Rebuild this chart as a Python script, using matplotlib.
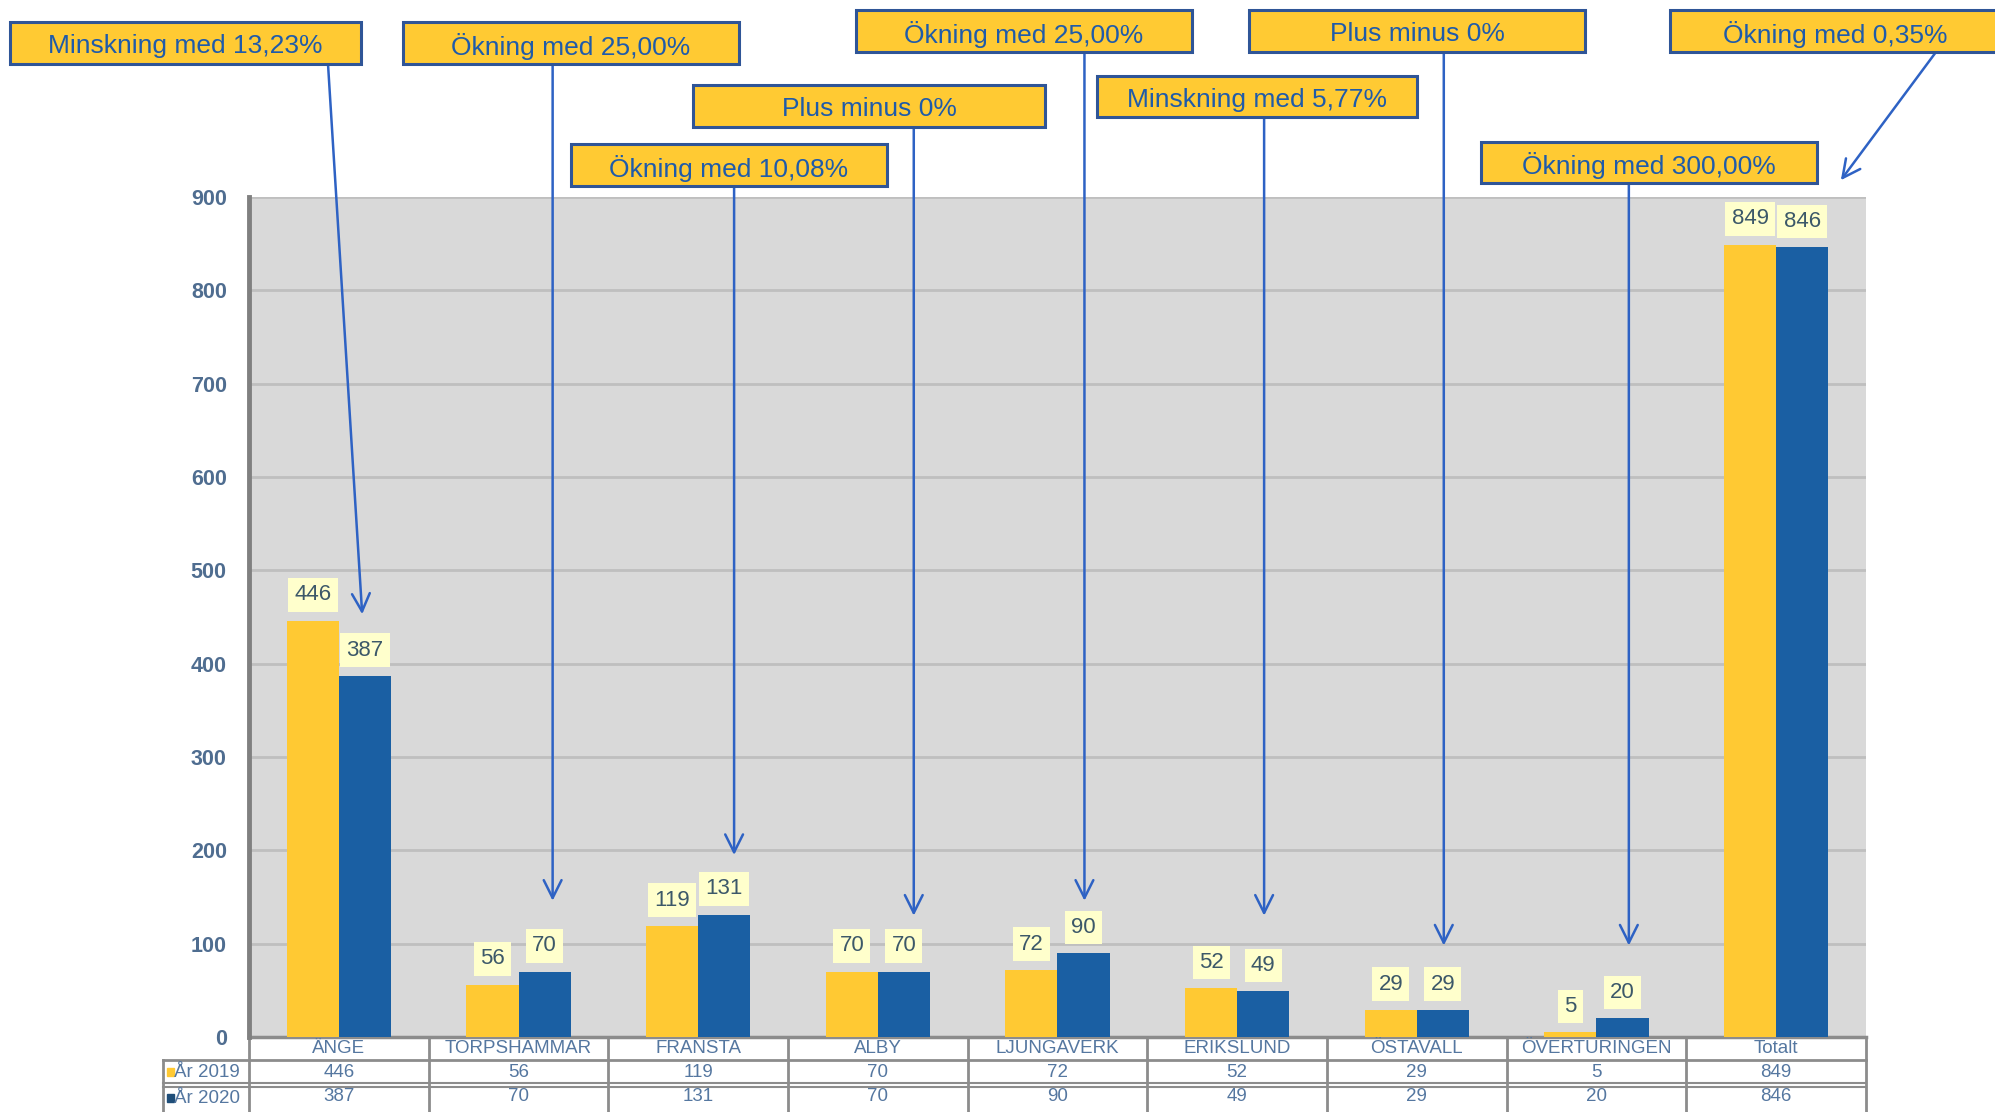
import numpy as np
import matplotlib.pyplot as plt
from matplotlib.patches import Rectangle
import matplotlib.transforms as mtrans

plt.rcParams['font.family'] = ['Liberation Sans', 'DejaVu Sans']

# data
orter = ['ÄNGE', 'TORPSHAMMAR', 'FRANSTA', 'ALBY', 'LJUNGAVERK',
         'ERIKSLUND', 'ÖSTAVALL', 'ÖVERTURINGEN', 'Totalt']
ar2019 = [446, 56, 119, 70, 72, 52, 29, 5, 849]
ar2020 = [387, 70, 131, 70, 90, 49, 29, 20, 846]
serier = ['År 2019', 'År 2020']
kommentarer = ['Minskning med 13,23%', 'Ökning med 25,00%', 'Ökning med 10,08%',
               'Plus minus 0%', 'Ökning med 25,00%', 'Minskning med 5,77%',
               'Plus minus 0%', 'Ökning med 300,00%', 'Ökning med 0,35%']

# layout of the callout boxes, figure pixels from top: x0, x1, y0, y1
boxar = [(10, 361, 22, 64), (403, 739, 22, 64), (571, 887, 144, 186),
         (693, 1045, 85, 127), (856, 1192, 10, 52), (1097, 1417, 76, 117),
         (1249, 1585, 10, 52), (1481, 1817, 142, 183), (1670, 2000, 10, 52)]
pil_x = [0.13, 1.19, 2.20, 3.20, 4.15, 5.15, 6.15, 7.18, 8.36]
pil_y = [453, 146, 195, 130, 146, 130, 98, 98, 918]
pil_start_x = [328, None, None, None, None, None, None, None, 1936]

GUL = '#FFC933'
BLA = '#1A5FA3'
TXT = '#1F5BAA'
W, H = 1995, 1112

fig = plt.figure(figsize=(W / 100, H / 100), dpi=100)
ax = fig.add_axes([249 / W, 1 - 1037 / H, (1866 - 249) / W, (1037 - 197) / H])
ax.set_facecolor('#D9D9D9')

x = np.arange(len(orter))
bw = 0.29
ax.bar(x - bw / 2, ar2019, bw, color=GUL, zorder=3)
ax.bar(x + bw / 2, ar2020, bw, color=BLA, zorder=3)

for xs, vals in [(x - bw / 2, ar2019), (x + bw / 2, ar2020)]:
    for xi, v in zip(xs, vals):
        ax.annotate(str(v), (xi, v), xytext=(0, 11), textcoords='offset points',
                    ha='center', va='bottom', fontsize=16, color='#3C5869',
                    bbox=dict(boxstyle='square,pad=0.28', fc='#FFFFCC', ec='none'),
                    zorder=4)

ax.set_xlim(-0.5, len(orter) - 0.5)
ax.set_ylim(0, 900)
ax.set_yticks(range(0, 901, 100))
ax.yaxis.grid(True, color='#BFBFBF', lw=2, zorder=0)
ax.set_xticks([])
ax.tick_params(axis='y', length=0, pad=16, labelsize=15.5, labelcolor='#4F6D90')
for lbl in ax.get_yticklabels():
    lbl.set_fontweight('bold')
for s in ['top', 'right', 'bottom']:
    ax.spines[s].set_visible(False)
ax.spines['left'].set_color('#808080')
ax.spines['left'].set_linewidth(3.5)

# data table under the plot
trans = mtrans.blended_transform_factory(ax.transData, ax.transAxes)
ph = 1037 - 197
rad = [0, -23 / ph, -48 / ph, -78 / ph]
lc = '#8C8C8C'
ax.plot([-0.5, 8.5], [rad[0]] * 2, transform=trans, color=lc, lw=2.5, clip_on=False)
ax.plot([-0.98, 8.5], [rad[1]] * 2, transform=trans, color=lc, lw=2, clip_on=False)
ax.plot([-0.98, 8.5], [rad[2] + 0.002] * 2, transform=trans, color=lc, lw=1.5, clip_on=False)
ax.plot([-0.98, 8.5], [rad[2] - 0.002] * 2, transform=trans, color=lc, lw=1.5, clip_on=False)
for k in range(len(orter) + 1):
    ax.plot([k - 0.5] * 2, [rad[0], rad[3]], transform=trans, color=lc, lw=2, clip_on=False)
ax.plot([-0.98] * 2, [rad[1], rad[3]], transform=trans, color=lc, lw=2, clip_on=False)

tc = '#5577A0'
for i, namn in enumerate(orter):
    ax.text(i, (rad[0] + rad[1]) / 2, namn, transform=trans, ha='center', va='center',
            fontsize=13.5, color=tc)
    ax.text(i, (rad[1] + rad[2]) / 2, str(ar2019[i]), transform=trans, ha='center',
            va='center', fontsize=13.5, color=tc)
    ax.text(i, (rad[2] + rad[3]) / 2 + 0.004, str(ar2020[i]), transform=trans, ha='center',
            va='center', fontsize=13.5, color=tc)
for j, (namn, col) in enumerate(zip(serier, [GUL, '#1F4E79'])):
    yc = (rad[1 + j] + rad[2 + j]) / 2 + 0.002 * j
    ax.add_patch(Rectangle((-0.955, yc - 0.004), 0.035, 0.009, transform=trans,
                           color=col, clip_on=False))
    ax.text(-0.92, yc, namn, transform=trans, ha='left', va='center',
            fontsize=13.5, color=tc)

# callouts with arrows
for i, (txt, (x0, x1, y0, y1)) in enumerate(zip(kommentarer, boxar)):
    fig.add_artist(Rectangle((x0 / W, 1 - y1 / H), (x1 - x0) / W, (y1 - y0) / H,
                             transform=fig.transFigure, fc='#FFCA33', ec='#2F5597',
                             lw=2.2, zorder=5))
    fig.text((x0 + x1) / 2 / W, 1 - ((y0 + y1) / 2 + 3) / H, txt, ha='center',
             va='center', fontsize=19, color=TXT, zorder=6)
    tip = ax.transData.transform((pil_x[i], pil_y[i]))
    sx = pil_start_x[i] if pil_start_x[i] is not None else tip[0]
    ax.annotate('', xy=(pil_x[i], pil_y[i]), xycoords='data',
                xytext=(sx, H - y1), textcoords='figure pixels',
                arrowprops=dict(arrowstyle='->', color='#2E62C4', lw=1.8,
                                mutation_scale=32, shrinkA=0, shrinkB=0),
                annotation_clip=False, zorder=7)

fig.savefig('out.png', dpi=100)
